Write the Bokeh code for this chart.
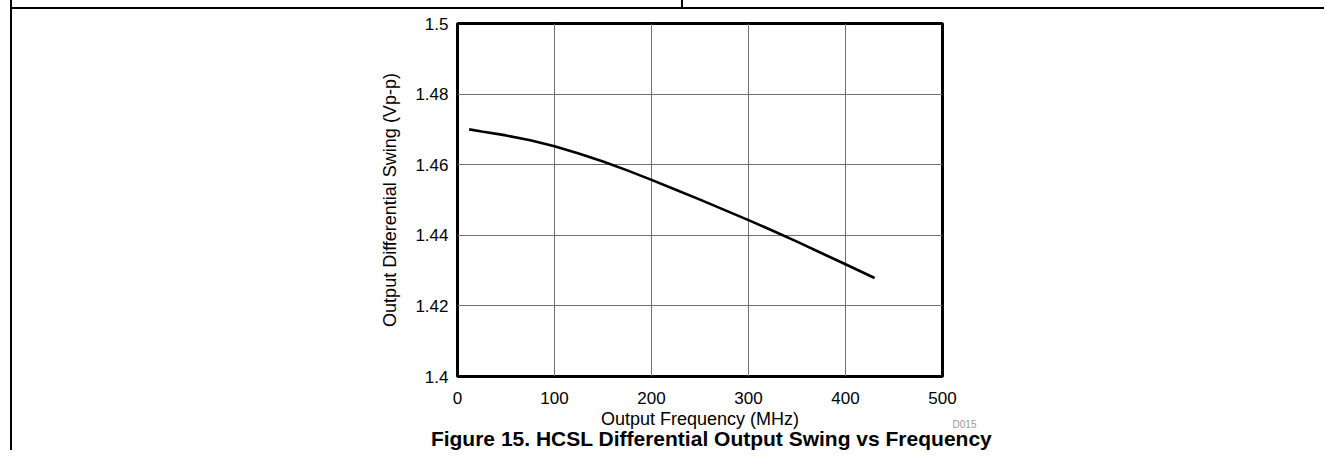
from bokeh.plotting import figure
from bokeh.models import Range1d, FixedTicker, Label
from bokeh.embed import file_html
from bokeh.resources import INLINE

# ---- data ----
freq_mhz = [12, 25, 50, 75, 100, 125, 150, 175, 200, 225, 250, 275, 300,
            325, 350, 375, 400, 430]
swing_vpp = [1.4700, 1.4694, 1.4683, 1.4669, 1.4652, 1.4632, 1.4609, 1.4584,
             1.4557, 1.4529, 1.4501, 1.4472, 1.4443, 1.4413, 1.4382, 1.4350,
             1.4318, 1.4279]

x_ticks = [0, 100, 200, 300, 400, 500]
y_ticks = [1.4, 1.42, 1.44, 1.46, 1.48, 1.5]
y_tick_labels = ["1.4", "1.42", "1.44", "1.46", "1.48", "1.5"]

x_title = "Output Frequency (MHz)"
y_title = "Output Differential Swing (Vp-p)"
caption = "Figure 15. HCSL Differential Output Swing vs Frequency"
doc_id = "D015"

FONT = "Liberation Sans"
W, H = 1324, 450
FL, FR, FT, FB = 457, 942, 23, 376   # frame edges in canvas pixels

p = figure(width=W, height=H, output_backend="svg", toolbar_location=None,
           x_range=Range1d(0, 500), y_range=Range1d(1.4, 1.5),
           min_border_left=FL, min_border_right=W - FR,
           min_border_top=FT, min_border_bottom=H - FB)

p.background_fill_color = "white"
p.border_fill_color = None
p.outline_line_color = "black"
p.outline_line_width = 3

# page rules of the surrounding document (decoration only)
p.styles = {
    "background-color": "white",
    "background-image": "linear-gradient(#000,#000), linear-gradient(#000,#000), linear-gradient(#000,#000)",
    "background-size": "2px 100%, 1326px 2px, 2px 8px",
    "background-position": "10px 0px, 10px 7px, 681px 0px",
    "background-repeat": "no-repeat",
}

p.xaxis.ticker = FixedTicker(ticks=x_ticks)
p.yaxis.ticker = FixedTicker(ticks=y_ticks)
p.yaxis.major_label_overrides = dict(zip(y_ticks, y_tick_labels))

for ax in (p.xaxis, p.yaxis):
    ax.axis_line_color = None
    ax.major_tick_line_color = None
    ax.minor_tick_line_color = None
    ax.major_tick_out = 0
    ax.major_tick_in = 0
    ax.minor_tick_out = 0
    ax.major_label_text_font = FONT
    ax.major_label_text_font_size = "17px"
    ax.major_label_text_color = "black"
    ax.axis_label_text_font = FONT
    ax.axis_label_text_font_size = "18px"
    ax.axis_label_text_font_style = "normal"
    ax.axis_label_text_color = "black"

p.xaxis.axis_label = x_title
p.yaxis.axis_label = y_title
p.xaxis.major_label_standoff = 15
p.xaxis.axis_label_standoff = 2
p.yaxis.major_label_standoff = 9
p.yaxis.axis_label_standoff = 12

p.grid.grid_line_color = "#707070"
p.grid.grid_line_width = 1
p.grid.grid_line_alpha = 1.0

p.line(freq_mhz, swing_vpp, line_color="black", line_width=2.6)

# helpers converting canvas pixels to data positions for text placement
def dx(px):
    return (px - FL) * 500 / (FR - FL)

def dy(py):
    return 1.5 - (py - FT) * 0.1 / (FB - FT)

d015 = Label(x=dx(964), y=dy(424), text=doc_id, text_align="center",
             text_baseline="alphabetic", text_font=FONT,
             text_font_size="10px", text_color="#999999")
cap = Label(x=dx(711), y=dy(438), text=caption, text_align="center",
            text_baseline="alphabetic", text_font=FONT,
            text_font_size="21px", text_font_style="bold",
            text_color="black")
p.add_layout(d015, "right")
p.add_layout(cap, "above")

open("out.html", "w").write(file_html(p, INLINE))
